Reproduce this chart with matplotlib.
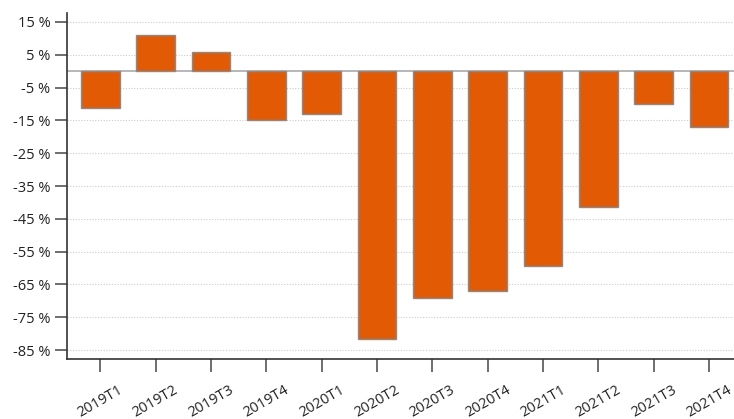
import matplotlib
matplotlib.use("Agg")
import matplotlib.pyplot as plt
import numpy as np

categories = ["2019T1", "2019T2", "2019T3", "2019T4", "2020T1", "2020T2",
              "2020T3", "2020T4", "2021T1", "2021T2", "2021T3", "2021T4"]
values = [-11.2, 10.9, 5.9, -14.9, -13.0, -81.7, -69.2, -67.0, -59.4, -41.4, -10.0, -17.0]
yticks = [15, 5, -5, -15, -25, -35, -45, -55, -65, -75, -85]
ytick_labels = [f"{t} %" for t in yticks]

plt.rcParams['font.family'] = ['Open Sans', 'DejaVu Sans']

fig = plt.figure(figsize=(7.34, 4.19), dpi=100)
ax = fig.add_axes([67/734, 1 - 359/419, 1 - 67/734, (359 - 12.7)/419])

x = np.arange(len(categories))
ax.set_xlim(-0.6, 11.45)
ax.set_ylim(-87.7, 17.8)

for t in yticks:
    ax.axhline(t, color="#cccccc", linestyle=(0, (1, 1.5)), linewidth=0.8, zorder=0)
ax.axhline(0, color="#aaaaaa", linewidth=1.2, zorder=1)

ax.bar(x, values, width=0.7, color="#E35A05", edgecolor="#8a8a8a", linewidth=1.0, zorder=2)

ax.set_yticks(yticks)
ax.set_yticklabels(ytick_labels)
ax.set_xticks(x)
ax.set_xticklabels(categories, rotation=30, ha="center")

ax.tick_params(axis="both", length=9, width=1.2, color="#555555", labelsize=10.5, labelcolor="#222222")
ax.tick_params(axis="y", pad=3)
ax.tick_params(axis="x", pad=8)

for s in ["top", "right"]:
    ax.spines[s].set_visible(False)
for s in ["left", "bottom"]:
    ax.spines[s].set_color("#333333")
    ax.spines[s].set_linewidth(1.2)

fig.savefig("out.png", dpi=100)
